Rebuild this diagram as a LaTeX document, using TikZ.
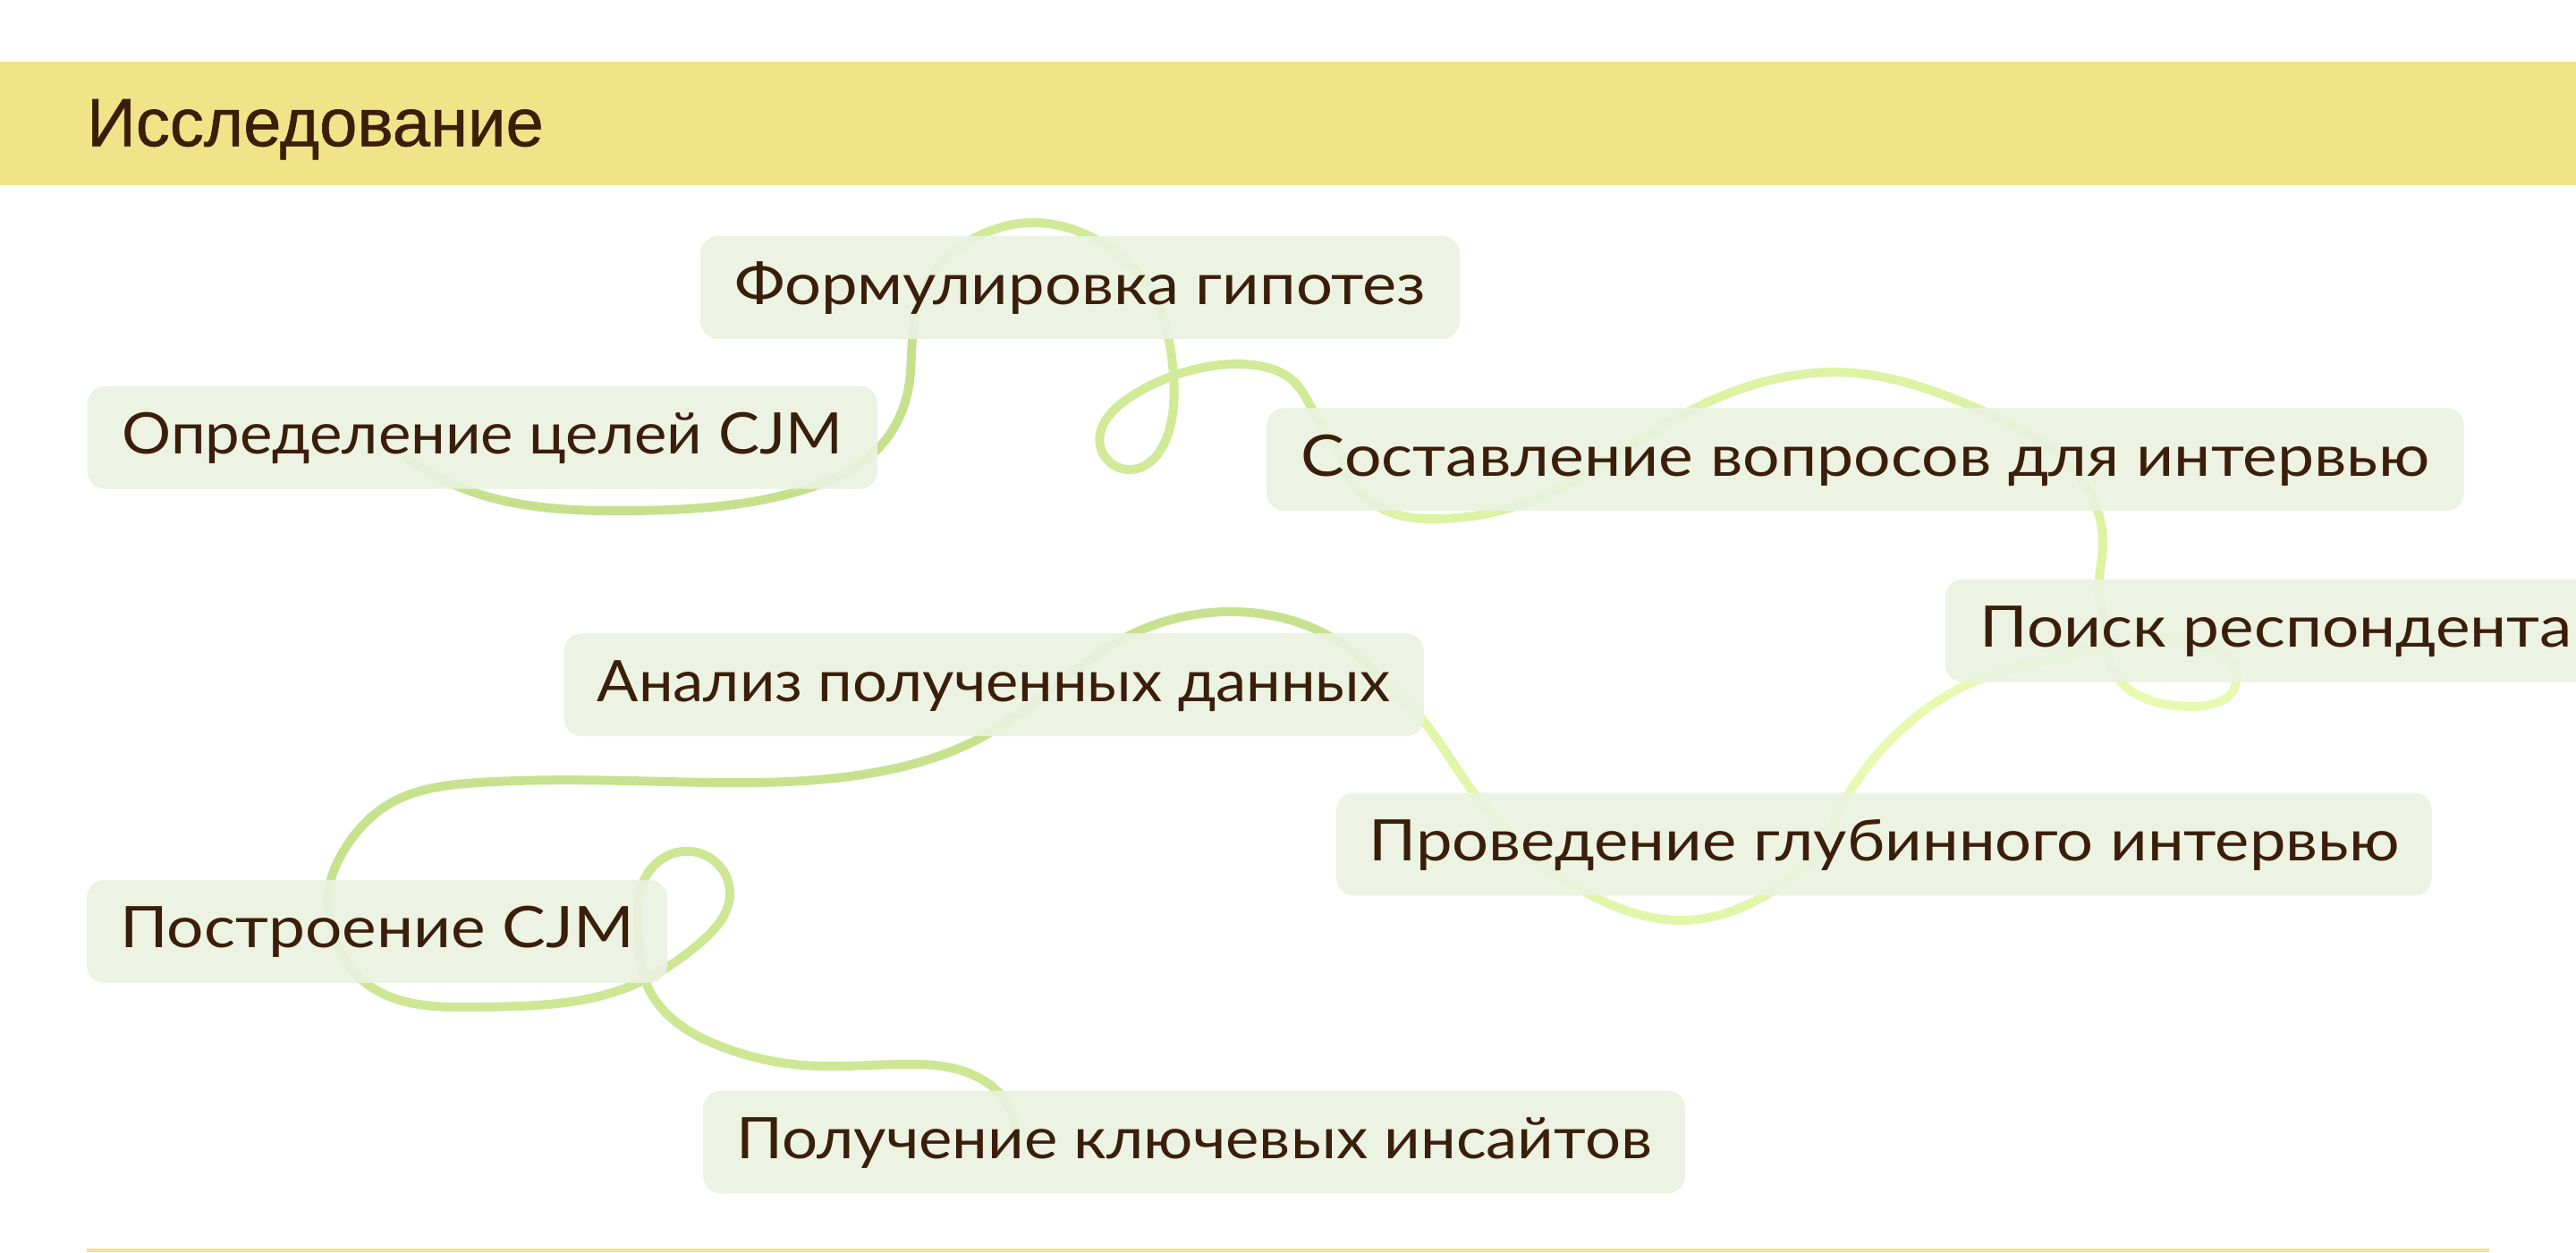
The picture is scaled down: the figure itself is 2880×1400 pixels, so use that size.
\documentclass[tikz,border=0pt]{standalone}
\usepackage{fontspec}
\usepackage{graphicx}
\setmainfont{Lato}
\newfontfamily\headfont[FakeBold=0.8]{Liberation Sans}
\newfontfamily\boxfont{Lato}
\usetikzlibrary{hobby}
\newcommand\fitw[2]{\resizebox{#1}{\height}{#2}}
\definecolor{band}{HTML}{F0E388}
\definecolor{txt}{HTML}{3B1E0A}
\definecolor{boxfill}{HTML}{EAF2DF}
\definecolor{bline}{HTML}{F2E48C}
\definecolor{cA}{HTML}{C6E18D}
\definecolor{cB}{HTML}{D1EA97}
\definecolor{cC}{HTML}{DDF2A3}
\definecolor{cD}{HTML}{E8FAB2}
\definecolor{cE}{HTML}{E2F6A9}
\definecolor{cF}{HTML}{C7E28F}
\definecolor{cG}{HTML}{CDE795}
\begin{document}
\begin{tikzpicture}[x=1pt,y=-1pt,
  thread/.style={line width=10pt, line cap=round, line join=round, use Hobby shortcut},
  box/.style={rectangle, rounded corners=20pt, fill=boxfill, fill opacity=0.92,
    text opacity=1, text=txt, minimum height=115pt, inner sep=0pt,
    text height=50pt, text depth=13pt, font=\boxfont\fontsize{64}{70}\selectfont},
  title/.style={anchor=base west, inner sep=0pt, text=txt,
    font=\headfont\fontsize{76}{82}\selectfont}]
\useasboundingbox (0,0) rectangle (2880,1400);
\clip (0,0) rectangle (2880,1400);
% thread join points (inside the boxes)
\coordinate (t1) at (455,512);
\coordinate (t2) at (1062,285);
\coordinate (t3) at (1500,510);
\coordinate (t4) at (2358,705);
\coordinate (t5) at (2040,945);
\coordinate (t6) at (1540,755);
\coordinate (t7) at (372,1035);
\coordinate (t8) at (1135,1262);
% thread
\draw[thread, cA] (t1) .. (520,547) .. (705,571) .. (900,547) .. (985,498) .. (1016,432) .. (1020,379) .. (1040,310) .. (t2);
\draw[thread, cB] (t2) .. (1100,261) .. (1160,249) .. (1218,264) .. (1290,330) .. (1310,400) .. (1308,478) .. (1264,525) .. (1230,498) .. (1262,445) .. (1340,412) .. (1400,408) .. (1448,428) .. (1466,456) .. (t3);
\draw[thread, cC] (t3) .. (1550,571) .. (1613,580) .. (1677,571) .. (1896,456) .. (2072,417) .. (2209,456) .. (2345,571) .. (2351,610) .. (2347,648) .. (t4);
\draw[thread, cD] (t4) .. (2371,762) .. (2448,790) .. (2500,762) .. (2470,725) .. (2300,735) .. (2205,763) .. (2121,820) .. (2067,887) .. (t5);
\draw[thread, cE] (t5) .. (1974,1001) .. (1882,1029) .. (1779,1001) .. (1648,887) .. (1589,803) .. (t6);
\draw[thread, cF] (t6) .. (1480,708) .. (1380,684) .. (1268,708) .. (1100,823) .. (982,863) .. (746,874) .. (535,875) .. (435,899) .. (385,950) .. (367,1000) .. (t7);
\draw[thread, cG] (t7) .. (410,1100) .. (535,1126) .. (696,1106) .. (784,1053) .. (816,1000) .. (773,952) .. (720,984) .. (714,1040) .. (722,1098) .. (814,1173) .. (887,1190) .. (1002,1190) .. (1098,1207) .. (1115,1220) .. (t8);
% boxes
\node[box, minimum width=883.4pt] (def) at (539.3,489.2) {\fitw{805.5pt}{Определение целей CJM}};
\node[box, minimum width=849pt] (hyp) at (1207.5,321.5) {\fitw{773pt}{Формулировка гипотез}};
\node[box, minimum width=1339pt] (que) at (2085.5,513.7) {\fitw{1261pt}{Составление вопросов для интервью}};
\node[box, minimum width=740pt] (res) at (2544.5,705) {\fitw{662pt}{Поиск респондента}};
\node[box, minimum width=961.5pt] (ana) at (1111.2,765.7) {\fitw{886.5pt}{Анализ полученных данных}};
\node[box, minimum width=1225pt] (int) at (2106.5,943.8) {\fitw{1152pt}{Проведение глубинного интервью}};
\node[box, minimum width=649pt] (cjm) at (421.5,1041.3) {\fitw{574.6pt}{Построение CJM}};
\node[box, minimum width=1098pt] (ins) at (1335,1277) {\fitw{1023.8pt}{Получение ключевых инсайтов}};
% header
\fill[band] (0,69) rectangle (2880,207);
\node[title] (head) at (97,163.3) {Исследование};
% bottom rule
\coordinate (r1) at (97,1397.5);
\coordinate (r2) at (2783,1397.5);
\draw[bline, line width=4pt] (r1) -- (r2);
\end{tikzpicture}
\end{document}
